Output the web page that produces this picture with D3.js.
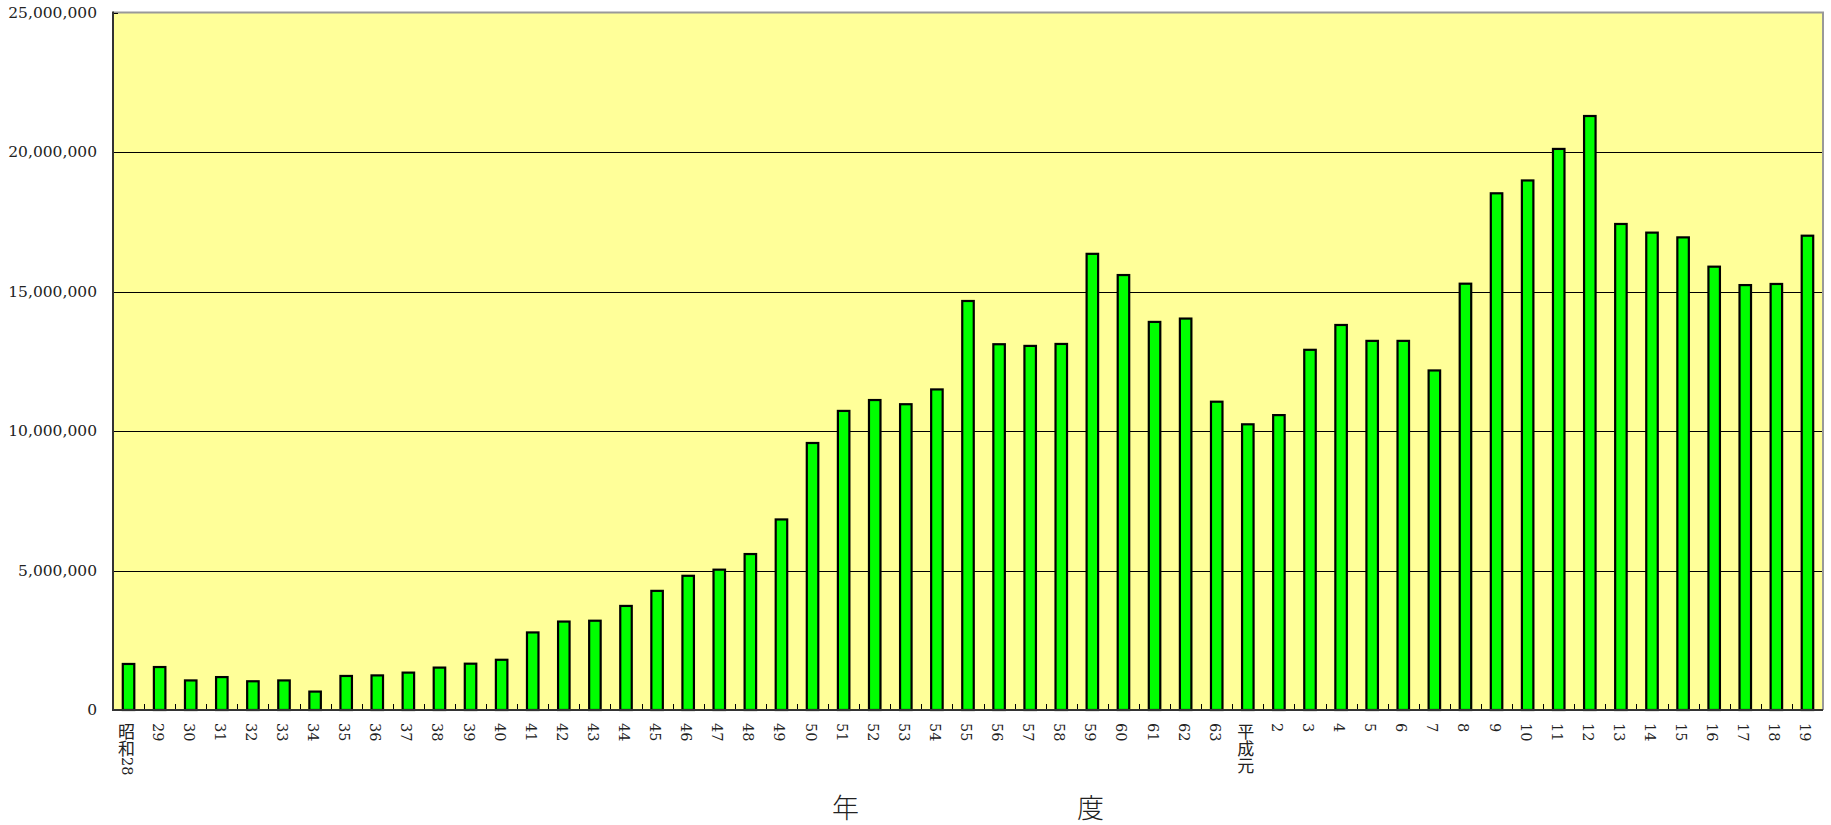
<!DOCTYPE html>
<html>
<head>
<meta charset="utf-8">
<script src="https://cdn.jsdelivr.net/npm/d3@7/dist/d3.min.js"></script>
<style>
  html, body { margin: 0; padding: 0; background: #ffffff; }
  svg { display: block; }
</style>
</head>
<body>
<svg id="chart" width="1831" height="825"></svg>
<script>
// ---- data ----
const categories = [
  "昭和28","29","30","31","32","33","34","35","36","37","38","39","40",
  "41","42","43","44","45","46","47","48","49","50","51","52","53","54",
  "55","56","57","58","59","60","61","62","63",
  "平成元","2","3","4","5","6","7","8","9","10","11","12","13","14","15",
  "16","17","18","19"
];
const values = [
  1650000, 1540000, 1060000, 1180000, 1030000, 1060000, 660000, 1220000, 1240000, 1340000, 1520000, 1660000, 1800000,
  2780000, 3170000, 3200000, 3730000, 4270000, 4810000, 5030000, 5590000, 6830000, 9570000, 10720000, 11110000, 10960000, 11490000,
  14660000, 13110000, 13050000, 13120000, 16350000, 15590000, 13910000, 14030000, 11050000,
  10240000, 10570000, 12910000, 13800000, 13230000, 13230000, 12170000, 15280000, 18520000, 18980000, 20110000, 21290000, 17420000, 17110000, 16940000,
  15890000, 15230000, 15270000, 17000000
];
const yTicks = [0, 5000000, 10000000, 15000000, 20000000, 25000000];
const axisTitleChars = ["年", "度"];

// ---- layout ----
const W = 1831, H = 825;
const plot = { left: 113, right: 1823, top: 12.5, bottom: 710 };

const svg = d3.select("#chart");

const x = d3.scaleBand().domain(categories).range([plot.left, plot.right]).padding(0);
const y = d3.scaleLinear().domain([0, 25000000]).range([plot.bottom, plot.top]);

// plot background
svg.append("rect")
  .attr("x", plot.left).attr("y", plot.top)
  .attr("width", plot.right - plot.left).attr("height", plot.bottom - plot.top)
  .attr("fill", "#FFFF99");

// gridlines
svg.append("g").selectAll("line")
  .data(yTicks.filter(d => d > 0 && d < 25000000))
  .join("line")
  .attr("x1", plot.left).attr("x2", plot.right)
  .attr("y1", d => Math.round(y(d)) + 0.5).attr("y2", d => Math.round(y(d)) + 0.5)
  .attr("stroke", "#000").attr("stroke-width", 1);

// top and right border
svg.append("path")
  .attr("d", `M${plot.left},${plot.top} H${plot.right} V${plot.bottom}`)
  .attr("fill", "none").attr("stroke", "#999").attr("stroke-width", 2);

// bars
const bw = x.bandwidth() * 0.37;
svg.append("g").selectAll("rect")
  .data(categories.map((c, i) => ({ c, v: values[i] })))
  .join("rect")
  .attr("x", d => x(d.c) + (x.bandwidth() - bw) / 2)
  .attr("y", d => y(d.v))
  .attr("width", bw)
  .attr("height", d => y(0) - y(d.v))
  .attr("fill", "#00FF00")
  .attr("stroke", "#000")
  .attr("stroke-width", 2.2);

// x ticks (inside, at category boundaries)
svg.append("g").selectAll("line")
  .data(categories.slice(1))
  .join("line")
  .attr("x1", d => Math.round(x(d)) + 0.5).attr("x2", d => Math.round(x(d)) + 0.5)
  .attr("y1", plot.bottom).attr("y2", plot.bottom - 6)
  .attr("stroke", "#000").attr("stroke-width", 1);

// y ticks (inside)
svg.append("g").selectAll("line")
  .data(yTicks)
  .join("line")
  .attr("x1", plot.left).attr("x2", plot.left + 5)
  .attr("y1", d => Math.round(y(d)) + 0.5).attr("y2", d => Math.round(y(d)) + 0.5)
  .attr("stroke", "#000").attr("stroke-width", 1);

// axis lines
svg.append("line")
  .attr("x1", plot.left).attr("x2", plot.left)
  .attr("y1", plot.top - 1).attr("y2", plot.bottom + 1)
  .attr("stroke", "#333").attr("stroke-width", 2);
svg.append("line")
  .attr("x1", plot.left).attr("x2", plot.right)
  .attr("y1", plot.bottom).attr("y2", plot.bottom)
  .attr("stroke", "#333").attr("stroke-width", 2);

// y labels
const fmt = d3.format(",");
svg.append("g").selectAll("text")
  .data(yTicks)
  .join("text")
  .attr("x", 97)
  .attr("y", d => y(d))
  .attr("text-anchor", "end")
  .attr("dominant-baseline", "central")
  .attr("font-family", "'DejaVu Serif', serif")
  .attr("font-size", 15.5)
  .attr("fill", "#222")
  .text(d => fmt(d));

// x labels (vertical writing)
const isCJK = ch => /[\u3000-\u9fff]/.test(ch);
function runs(s) {
  const out = [];
  for (const ch of s) {
    const k = isCJK(ch);
    if (out.length && out[out.length - 1].k === k) out[out.length - 1].t += ch;
    else out.push({ k, t: ch });
  }
  return out;
}
const xl = svg.append("g").selectAll("text")
  .data(categories)
  .join("text")
  .attr("x", d => x(d) + x.bandwidth() / 2 - 2)
  .attr("y", 723)
  .attr("style", "writing-mode: vertical-rl; text-orientation: mixed;")
  .attr("text-anchor", "start")
  .attr("font-family", "'DejaVu Serif', 'Noto Sans CJK JP', serif")
  .attr("font-size", 14.5)
  .attr("fill", "#222");
xl.each(function (d) {
  const t = d3.select(this);
  runs(d).forEach(r => {
    t.append("tspan")
      .attr("font-family", r.k ? "'Noto Sans CJK JP', sans-serif" : "'DejaVu Serif', serif")
      .attr("font-size", r.k ? 17 : 14.5)
      .text(r.t);
  });
});

// axis title
const cx = (plot.left + plot.right) / 2;
svg.append("g").selectAll("text")
  .data(axisTitleChars)
  .join("text")
  .attr("x", (d, i) => cx + (i === 0 ? -122.5 : 122.5))
  .attr("y", 806)
  .attr("text-anchor", "middle")
  .attr("dominant-baseline", "central")
  .attr("font-family", "'Noto Sans CJK JP', sans-serif")
  .attr("font-size", 27)
  .attr("font-weight", 300)
  .attr("fill", "#222")
  .text(d => d);
</script>
</body>
</html>
